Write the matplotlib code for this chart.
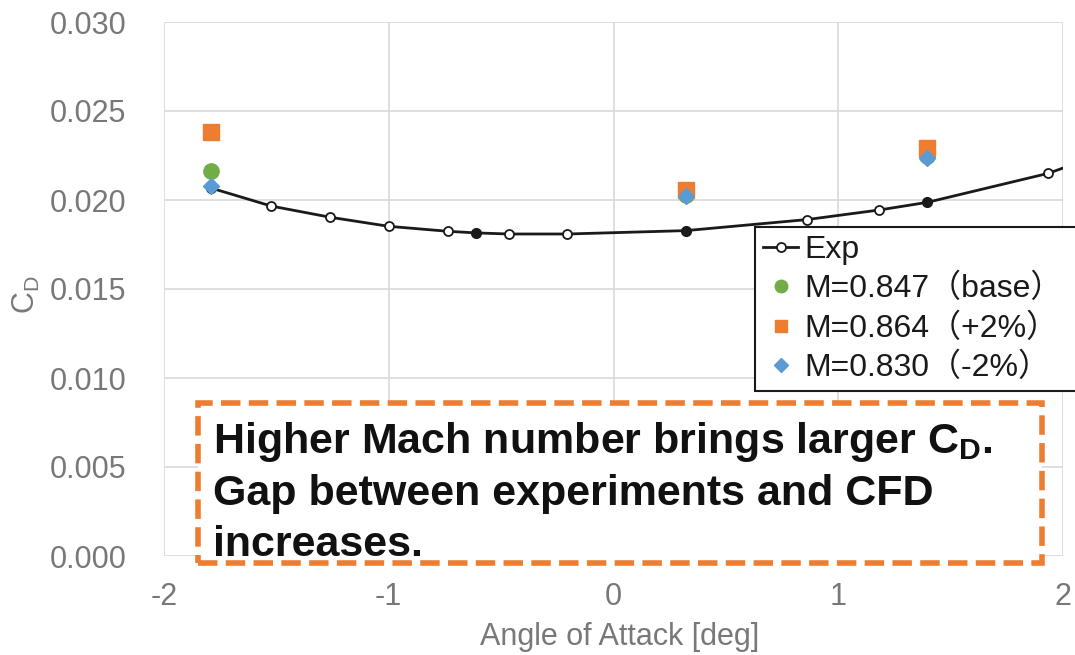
import matplotlib
matplotlib.use("Agg")
import matplotlib.pyplot as plt
from matplotlib.patches import Rectangle
import numpy as np

plt.rcParams['font.family'] = ['Liberation Sans', 'Noto Sans CJK JP', 'DejaVu Sans']
plt.rcParams['mathtext.fontset'] = 'custom'
plt.rcParams['mathtext.rm'] = 'Liberation Sans'
plt.rcParams['mathtext.bf'] = 'Liberation Sans:bold'

# Experimental drag polar (last point lies past the axis limit)
exp_alpha = [-1.79, -1.523, -1.26, -0.999, -0.735, -0.61, -0.465, -0.205,
             0.322, 0.861, 1.183, 1.397, 1.935, 2.2]
exp_cd = [0.02067, 0.01966, 0.01903, 0.01852, 0.01824, 0.01815, 0.01809,
          0.01809, 0.01828, 0.0189, 0.01944, 0.01987, 0.0215, 0.0227]
exp_filled = [True, False, False, False, False, True, False, False,
              True, False, False, True, False, False]

# CFD results
cfd_alpha = [-1.79, 0.322, 1.397]
cd_base = [0.02165, 0.0203, 0.0225]
cd_plus = [0.0238, 0.02056, 0.02294]
cd_minus = [0.02077, 0.0202, 0.02234]

W, H = 1075, 655
fig = plt.figure(figsize=(W / 100, H / 100), dpi=100)
ax = fig.add_axes([164 / W, 1 - 556 / H, (1063 - 164) / W, (556 - 22) / H])

grid_c = '#d9d9d9'
text_c = '#787878'

ax.plot(exp_alpha, exp_cd, color='#1a1a1a', lw=2.0, zorder=3)
ea = np.array(exp_alpha)
ec = np.array(exp_cd)
ef = np.array(exp_filled)
ax.plot(ea[~ef], ec[~ef], 'o', ms=6.5, mfc='white', mec='#1a1a1a', mew=1.3,
        ls='none', zorder=4)
ax.plot(ea[ef], ec[ef], 'o', ms=7, mfc='#1a1a1a', mec='#1a1a1a', ls='none', zorder=4)

ax.plot(cfd_alpha, cd_base, 'o', ms=11, color='#70ad47', ls='none', zorder=5)
ax.plot(cfd_alpha, cd_plus, 's', ms=11, color='#ed7d31', ls='none', zorder=5)
ax.plot(cfd_alpha, cd_minus, 'D', ms=8.5, color='#5b9bd5', ls='none', zorder=6)

ax.set_xlim(-2, 2)
ax.set_ylim(0, 0.030)
ax.set_xticks([-2, -1, 0, 1, 2])
ax.set_xticklabels(['-2', '-1', '0', '1', '2'])
ax.set_yticks(np.arange(0, 0.0301, 0.005))
ax.set_yticklabels(['%.3f' % v for v in np.arange(0, 0.0301, 0.005)])
ax.grid(True, color=grid_c, lw=1.2)
ax.set_axisbelow(True)
for s in ax.spines.values():
    s.set_visible(False)
ax.tick_params(length=0, labelsize=22, labelcolor=text_c)
ax.tick_params(axis='x', pad=19)
ax.tick_params(axis='y', pad=27)
for lbl in ax.get_yticklabels():
    lbl.set_va('center_baseline')

fig.text(620 / W, 1 - 645 / H, 'Angle of Attack [deg]', fontsize=22, color=text_c,
         ha='center', va='baseline')
fig.text(26 / W, 1 - 295 / H, r'C$_\mathrm{D}$', rotation=90, fontsize=22,
         color=text_c, ha='center', va='center')

# Legend handles
h_exp, = ax.plot([], [], '-o', color='#1a1a1a', lw=2.0, ms=6.5, mfc='white', mew=1.3)
h_b, = ax.plot([], [], 'o', ms=9, color='#70ad47', ls='none')
h_p, = ax.plot([], [], 's', ms=9, color='#ed7d31', ls='none')
h_m, = ax.plot([], [], 'D', ms=7, color='#5b9bd5', ls='none')
leg = fig.legend([h_exp, h_b, h_p, h_m],
                 ['Exp', 'M=0.847（base）', 'M=0.864（+2%）', 'M=0.830（-2%）'],
                 loc='upper left',
                 bbox_to_anchor=(755 / W, 1 - 227 / H, (1085 - 755) / W, 0.0),
                 mode='expand', fontsize=23, frameon=True, fancybox=False,
                 edgecolor='#1a1a1a', framealpha=1, handlelength=1.1,
                 handletextpad=0.2, labelspacing=0.28, borderpad=0.25,
                 borderaxespad=0)
leg.get_frame().set_linewidth(1.5)
for t in leg.get_texts():
    t.set_color('#1a1a1a')

# Dashed note box
fig.add_artist(Rectangle((198 / W, 1 - 563 / H), (1042 - 198) / W, (563 - 403) / H,
                         transform=fig.transFigure, fill=True, facecolor='white',
                         edgecolor='#ed7d31', lw=4, ls=(0, (3.5, 1.5)), zorder=10))
note_lines = [r'Higher Mach number brings larger C$_\mathbf{D}$.',
              'Gap between experiments and CFD',
              'increases.']
baselines = [453, 505, 556]
for line, yb in zip(note_lines, baselines):
    fig.text(213 / W, 1 - yb / H, line, fontsize=31, fontweight='bold',
             color='#111111', ha='left', va='baseline', zorder=11)

fig.savefig('out.png', dpi=100)
